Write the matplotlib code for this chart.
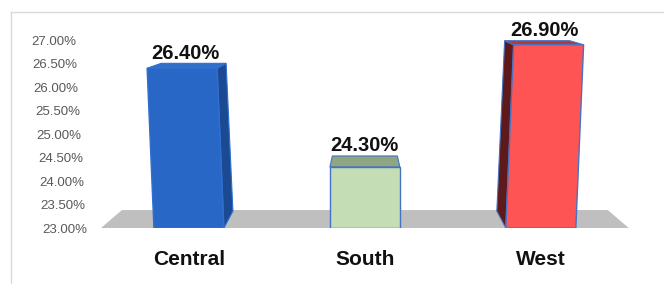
import numpy as np
import matplotlib
matplotlib.use("Agg")
import matplotlib.pyplot as plt
import matplotlib.transforms as mtrans
from matplotlib.patches import Polygon

plt.rcParams['font.family'] = ['Liberation Sans', 'DejaVu Sans']

# data
regions = ["Central", "South", "West"]
share = [26.4, 24.3, 26.9]
ytick_vals = [23.0, 23.5, 24.0, 24.5, 25.0, 25.5, 26.0, 26.5, 27.0]

# style
front_col = ["#2867c6", "#c5ddb5", "#ff5454"]
top_col = ["#3070c8", "#8fa684", "#b43a3a"]
side_col = ["#1c4a92", "#8fa684", "#5e1a1a"]
edge_col = ["#2e6fd0", "#4472c4", "#4472c4"]
base = 23.0

fig = plt.figure(figsize=(6.64, 2.84), dpi=100)
ax = fig.add_axes([0.152, 0.197, 0.795, 0.728])
ax.set_xlim(-0.5, 2.5)
ax.set_ylim(base, 27.4)

# pixel -> data scale
W, H = 664, 284
px_x = (2.5 - -0.5) / (0.795 * W)
px_y = (27.4 - base) / (0.728 * H)

bar_w = 70 * px_x

# floor
fd = 18 * px_y
inset = 21 * px_x
floor = Polygon([(-0.5, base), (2.5, base), (2.5 - inset, base + fd), (-0.5 + inset, base + fd)],
                closed=True, facecolor="#bfbfbf", edgecolor="none", zorder=1)
ax.add_patch(floor)

for i, (name, v) in enumerate(zip(regions, share)):
    h = v - base
    lean = 2.0 * h * (i - 1) * px_x
    # front face corners
    bl = (i - bar_w / 2, base)
    br = (i + bar_w / 2, base)
    tl = (i - bar_w / 2 + lean, v)
    tr = (i + bar_w / 2 + lean, v)
    # depth (rough perspective)
    dy_top = 18 * np.exp(-0.379 * h) * px_y
    dy_bot = 17 * px_y
    dx = 11.5 * (1 - i) * px_x
    nar = 2.5 * px_x
    btl = (tl[0] + dx + nar, v + dy_top)
    btr = (tr[0] + dx - nar, v + dy_top)
    bbl = (bl[0] + dx + nar, base + dy_bot)
    bbr = (br[0] + dx - nar, base + dy_bot)
    if i == 0:
        side = [br, tr, btr, bbr]
    elif i == 2:
        side = [bl, tl, btl, bbl]
    else:
        side = None
    if side is not None:
        ax.add_patch(Polygon(side, closed=True, facecolor=side_col[i],
                             edgecolor=edge_col[i], lw=0.8, zorder=2))
    ax.add_patch(Polygon([tl, tr, btr, btl], closed=True, facecolor=top_col[i],
                         edgecolor=edge_col[i], lw=0.8, zorder=3))
    ax.add_patch(Polygon([bl, br, tr, tl], closed=True, facecolor=front_col[i],
                         edgecolor=edge_col[i], lw=1.0, zorder=4))
    ax.annotate(f"{v:.2f}%", xy=(i + lean / 2, v + dy_top), xytext=(0, 0.5),
                textcoords="offset points", ha="center", va="bottom",
                fontsize=14.5, fontweight="bold", color="#111111", zorder=5)

ax.set_xticks(range(len(regions)))
ax.set_xticklabels(regions, fontsize=15, fontweight="bold", color="#111111")
ax.set_yticks(ytick_vals)
ax.set_yticklabels([f"{t:.2f}%" for t in ytick_vals], fontsize=9.5, color="#595959")
ax.tick_params(axis="x", length=0, pad=15.5)
ax.tick_params(axis="y", length=0, pad=10)
for t, lab in zip(ytick_vals, ax.get_yticklabels()):
    shift = -(t - base) * 2.8 * 0.72
    lab.set_transform(lab.get_transform() + mtrans.ScaledTranslation(shift / 72, 0, fig.dpi_scale_trans))
for s in ax.spines.values():
    s.set_visible(False)
ax.set_facecolor("none")

# chart border (top and left)
fig.add_artist(plt.Line2D([11 / W, 1.0], [1 - 12 / H, 1 - 12 / H], transform=fig.transFigure,
                          color="#d9d9d9", lw=1))
fig.add_artist(plt.Line2D([11 / W, 11 / W], [0, 1 - 12 / H], transform=fig.transFigure,
                          color="#d9d9d9", lw=1))

fig.savefig("out.png", dpi=100)
